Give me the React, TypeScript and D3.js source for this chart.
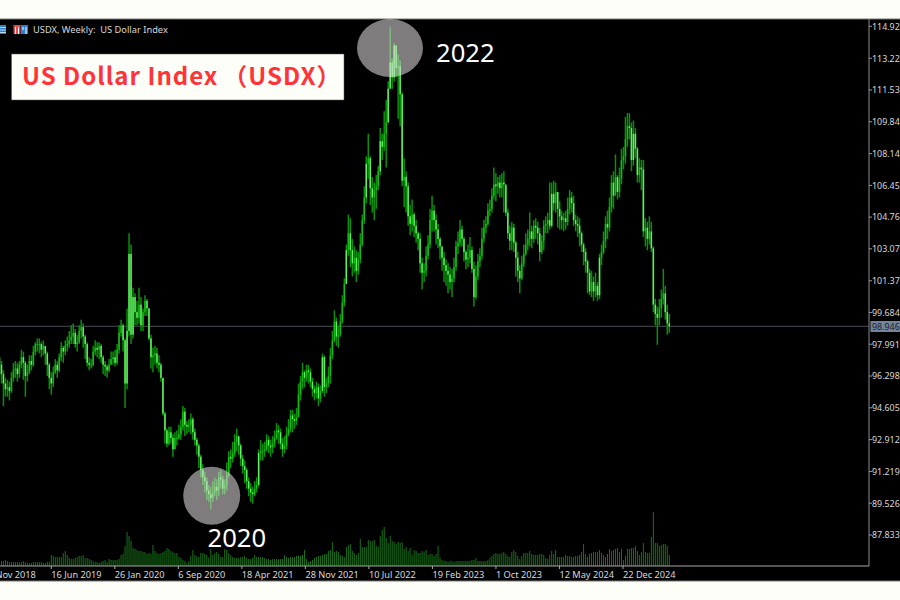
import React from "react";
import * as d3 from "d3";

const closes = [
96.9,96.4,95.9,95.6,95.7,95.5,96.2,96.6,96.7,96.4,
96.9,97.3,97.0,96.3,96.5,97.1,96.9,97.6,98.0,98.0,
98.0,97.7,97.9,97.5,96.9,96.2,95.9,96.5,96.9,96.6,
97.3,97.8,97.6,97.9,98.0,98.2,98.4,98.6,98.0,98.1,
98.7,98.9,98.4,98.0,97.0,96.9,96.9,97.6,97.8,97.7,
97.9,97.3,96.9,96.8,96.6,96.9,97.2,97.3,97.0,97.7,
98.6,99.0,98.2,95.9,98.7,102.8,98.5,100.5,99.7,99.4,
100.1,99.0,99.7,100.3,99.9,98.3,97.3,97.4,97.5,97.0,
96.9,96.2,94.3,93.4,92.7,93.3,93.0,92.4,93.0,93.0,
93.2,93.6,94.4,93.7,93.6,93.7,94.0,93.3,92.9,92.6,
92.0,91.3,90.9,90.7,90.2,90.0,89.8,90.1,90.4,90.2,
90.9,90.8,90.3,90.5,91.0,92.0,91.9,92.2,92.8,93.1,
92.6,91.9,91.5,91.3,90.7,90.3,90.1,90.0,90.3,90.5,
92.2,92.3,92.3,92.4,92.9,92.6,92.5,92.7,93.0,93.4,
93.3,92.7,92.4,92.6,93.2,93.5,94.2,94.0,93.9,94.1,
95.3,96.0,96.5,96.2,96.6,96.5,96.0,95.6,95.4,95.7,
95.1,95.5,97.3,95.7,95.9,96.3,97.4,98.2,99.2,98.4,
98.5,99.2,100.2,101.2,103.0,103.9,103.0,102.3,102.6,101.9,
102.5,103.3,104.6,105.8,107.6,107.9,106.3,105.8,106.2,106.4,
107.2,108.8,108.5,109.2,109.8,111.6,113.0,112.2,113.9,112.7,
112.8,111.3,106.7,106.9,106.4,104.8,104.4,104.9,104.3,103.9,
103.6,102.3,101.8,101.9,102.7,103.3,104.6,105.1,104.6,104.1,
103.6,103.2,102.6,102.2,101.9,101.7,101.3,101.5,102.1,103.2,
103.4,104.1,103.6,102.9,102.5,102.6,103.0,102.0,100.5,101.6,
102.4,102.7,103.6,104.2,104.4,105.1,105.2,105.9,106.5,106.4,
106.6,106.3,106.6,106.5,105.0,103.9,103.5,104.2,103.4,102.6,
101.9,101.5,102.3,102.8,103.3,103.6,104.0,103.6,104.3,104.2,
103.9,102.9,103.5,104.3,104.4,104.6,104.3,106.0,105.5,106.1,
105.2,104.8,104.6,104.7,104.5,105.2,105.8,105.5,104.6,104.4,
104.3,103.9,103.3,102.9,102.4,101.8,100.8,101.3,100.8,101.1,
100.6,102.6,102.9,103.5,104.4,104.2,105.3,106.6,105.9,106.9,
106.1,106.8,107.8,108.0,108.9,109.6,109.5,107.8,109.2,108.4,
107.0,107.4,107.3,104.0,104.2,103.6,104.0,103.1,100.1,99.6,
99.4,99.9,100.4,100.7,99.7,99.1,98.95,
];

const highs = [
97.3,97.1,96.6,96.2,96.1,96.0,96.5,97.0,97.1,97.0,
97.1,97.7,97.6,97.1,96.9,97.4,97.4,97.9,98.1,98.3,
98.3,98.1,98.2,97.9,97.6,97.0,96.5,96.8,97.2,97.1,
97.5,98.1,97.9,98.2,98.4,98.7,99.0,99.1,98.8,98.5,
99.0,99.3,99.1,98.5,98.1,97.3,97.2,97.9,98.2,98.1,
98.1,98.0,97.4,97.1,96.9,97.2,97.6,97.6,97.7,98.0,
99.0,99.3,99.1,98.3,99.9,103.9,103.3,101.0,100.7,100.3,
101.0,100.5,99.9,100.6,100.4,99.9,98.5,97.8,97.9,97.8,
97.4,97.0,96.2,94.4,93.5,93.6,93.6,93.2,93.3,93.4,
93.7,94.0,94.7,94.6,93.9,94.0,94.3,94.1,93.5,93.0,
92.7,92.1,91.6,91.2,90.9,90.5,90.4,90.7,90.9,90.8,
91.2,91.3,91.0,90.8,91.7,92.3,92.4,92.8,93.2,93.5,
93.0,92.7,92.1,91.8,91.4,90.9,90.6,90.4,90.7,90.9,
92.4,92.9,92.7,92.8,93.2,93.1,92.9,93.1,93.4,93.8,
93.7,93.5,93.0,93.1,93.6,94.0,94.5,94.5,94.3,94.6,
95.9,96.3,97.0,96.6,96.9,96.9,96.7,96.2,95.8,96.0,
95.9,95.8,97.5,97.4,96.2,96.8,97.8,98.7,99.8,99.4,
99.0,99.6,100.6,101.5,103.3,104.9,104.7,103.6,103.2,103.0,
102.9,103.9,104.9,106.4,108.0,109.2,108.0,106.9,106.6,107.0,
107.5,109.5,109.2,110.4,111.0,112.0,114.9,113.2,114.0,113.9,
113.4,113.1,111.4,107.9,107.2,106.6,105.4,105.7,105.0,104.6,
104.0,103.9,102.6,102.3,103.2,103.8,105.2,105.9,105.4,104.9,
104.4,103.7,103.2,102.9,102.5,102.3,102.1,102.0,102.6,103.5,
104.0,104.6,104.3,103.7,103.0,103.3,103.7,103.2,102.4,102.2,
102.8,103.1,104.2,104.6,104.8,105.5,105.7,106.3,107.4,107.1,
106.9,107.0,107.1,107.2,106.4,105.2,104.3,104.5,104.4,103.5,
102.9,102.2,102.7,103.3,103.9,104.1,105.0,104.3,104.6,104.7,
104.5,104.2,103.8,104.6,104.8,105.0,106.6,106.6,106.7,106.6,
106.1,105.6,105.1,105.0,105.1,105.8,106.2,106.1,105.9,104.9,
104.8,104.7,104.0,103.4,103.1,102.5,102.0,101.9,101.6,101.8,
101.3,102.8,103.3,104.0,104.8,105.1,105.8,107.0,107.2,108.1,
107.0,107.4,108.4,108.5,110.1,110.3,110.3,109.8,109.9,109.5,
108.5,107.9,107.8,107.8,104.7,104.5,104.8,104.5,103.2,100.4,
100.0,100.4,100.9,102.0,101.1,100.1,99.6,
];

const lows = [
96.2,95.9,94.7,95.2,95.2,95.0,95.4,96.0,96.2,96.0,
96.2,96.7,96.1,95.2,96.0,96.4,96.6,96.8,97.4,97.6,
97.5,97.3,97.4,96.9,96.3,95.6,95.3,95.7,96.4,96.2,
96.5,97.1,97.0,97.4,97.6,97.8,98.0,98.0,97.8,97.6,
98.0,98.3,97.8,97.2,96.8,96.6,96.7,96.8,97.4,97.3,
97.2,97.0,96.4,96.3,96.2,96.5,96.9,96.9,96.8,96.9,
97.5,98.4,97.6,94.6,95.6,98.4,98.0,98.3,99.0,99.0,
99.1,98.7,98.7,99.5,99.5,98.2,96.7,96.5,96.9,96.7,
96.5,96.0,94.2,92.7,92.5,92.6,92.7,92.0,92.4,92.6,
92.9,92.9,93.4,93.1,93.2,93.3,93.2,92.9,92.6,92.1,
91.4,90.9,90.5,90.1,89.7,89.6,89.2,89.6,89.9,89.7,
89.9,90.3,90.0,90.0,90.2,90.9,91.4,91.7,92.0,92.3,
92.1,91.5,91.1,90.6,90.3,89.9,89.6,89.5,89.9,90.1,
90.4,91.8,91.8,92.0,92.3,92.2,92.0,92.2,92.5,92.9,
92.7,92.4,92.0,92.2,92.4,93.1,93.3,93.3,93.5,93.7,
94.2,95.0,95.6,95.7,96.0,95.9,95.7,95.2,95.0,95.1,
94.7,94.9,95.4,95.2,95.4,95.7,95.9,97.2,98.1,97.9,
97.8,98.4,99.1,100.0,101.2,102.7,102.1,101.6,101.8,101.3,
101.7,102.3,103.2,104.4,105.5,106.8,105.4,105.0,104.6,105.2,
106.2,107.0,107.8,108.3,107.4,109.8,111.6,111.6,112.0,112.2,
110.0,109.6,106.4,105.3,105.0,104.3,103.8,104.0,103.7,103.4,
103.0,101.8,100.9,101.3,101.6,102.5,103.1,104.0,104.0,103.3,
103.1,102.5,101.9,101.3,101.1,100.7,100.9,100.5,101.3,101.9,
102.8,103.2,103.2,102.4,102.0,102.1,102.3,101.8,100.0,100.4,
101.4,102.1,102.5,103.4,103.9,104.3,104.8,105.0,105.7,105.6,
106.0,105.8,105.8,105.0,104.8,103.6,103.0,103.0,102.9,101.6,
101.3,100.7,101.4,102.1,102.7,103.0,103.2,103.1,103.4,103.6,
103.3,102.4,102.8,103.0,103.9,103.9,104.1,104.2,105.1,105.0,
104.2,104.1,104.1,104.0,104.1,104.3,104.9,105.0,104.3,104.0,
103.7,103.2,102.9,102.2,101.8,100.7,100.6,100.5,100.3,100.5,
100.3,100.4,102.2,102.8,103.1,103.6,104.0,105.0,105.2,106.1,
105.7,105.8,106.5,107.3,107.6,108.5,108.9,107.2,107.5,107.9,
106.6,106.6,106.2,103.7,103.2,103.0,103.3,102.9,99.7,99.0,
97.96,99.0,99.4,100.1,99.3,98.5,98.6,
];

const volumes = [
4,5,5,6,5,4,4,4,4,4,
4,4,5,4,3,3,3,4,4,4,
4,4,3,3,4,4,11,10,9,9,
9,9,13,15,11,8,7,7,8,9,
10,10,11,8,8,7,6,5,4,4,
3,4,5,6,4,7,6,6,6,6,
7,11,12,20,34,30,25,18,17,16,
15,15,14,14,12,13,12,21,15,13,
12,13,14,15,18,17,15,14,13,13,
9,8,6,5,3,5,10,16,11,10,
9,13,13,12,11,8,17,11,13,14,
12,9,9,17,16,13,11,9,8,8,
8,9,9,10,8,7,7,8,11,9,
9,9,9,8,7,7,6,7,7,7,
7,7,7,11,9,8,9,9,9,10,
10,10,11,16,7,4,5,6,8,9,
10,10,11,12,12,15,16,24,14,15,
14,11,10,9,19,21,22,15,13,11,
13,27,19,19,19,26,25,25,26,20,
19,30,36,39,28,23,30,25,24,22,
24,23,24,17,19,15,18,11,16,15,
13,13,15,14,16,11,12,12,10,12,
20,8,6,5,5,4,5,5,4,5,
5,5,5,5,5,5,5,6,6,8,
5,5,5,5,5,6,8,10,12,13,
12,12,13,14,12,10,9,14,16,14,
10,7,10,13,13,13,15,12,11,11,
11,12,12,11,8,7,11,15,12,16,
9,9,9,9,11,10,10,9,9,10,
10,11,14,22,12,9,12,13,14,14,
14,16,13,11,9,12,17,15,16,17,
18,14,17,6,10,17,17,18,18,20,
15,11,14,23,14,13,13,29,54,23,
23,20,21,22,22,20,11,
];

const priceTicks = ["114.92","113.22","111.53","109.84","108.14","106.45","104.76","103.07","101.37","99.684","97.991","96.298","94.605","92.912","91.219","89.526","87.833"];
const dateTicks = ["4 Nov 2018","16 Jun 2019","26 Jan 2020","6 Sep 2020","18 Apr 2021","28 Nov 2021","10 Jul 2022","19 Feb 2023","1 Oct 2023","12 May 2024","22 Dec 2024"];
const dateTickBars = [-6,26,58,90,122,154,186,218,250,282,314];
const lastPrice = 98.946;

const W = 900, H = 600;
const tickX = d3.scaleLinear().domain([26, 314]).range([51.3, 623]);
const x = d3.scaleLinear().domain([26, 336]).range([51.3, 669.3]);
const y = d3.scaleLinear().domain([87.833, 114.921]).range([535, 26.3]);
const v = d3.scaleLinear().domain([0, 54]).range([566, 512]);

const axisFont = "'Noto Sans', sans-serif";

export default function App() {
  const bars = closes.map((c, i) => {
    const o = i === 0 ? 97.3 : closes[i - 1];
    return { i, o, c, h: highs[i], l: lows[i] };
  });
  return (
    <svg width={W} height={H} viewBox={`0 0 ${W} ${H}`} style={{ position: "absolute", left: 0, top: 0, display: "block" }}>
      <rect x={0} y={0} width={W} height={H} fill="#fefef8" />
      <rect x={0} y={19} width={W} height={562} fill="#000" />
      <line x1={0} x2={W} y1={19} y2={19} stroke="#777" />
      <line x1={0} x2={W} y1={581} y2={581} stroke="#777" />

      <line x1={0} x2={869} y1={y(lastPrice)} y2={y(lastPrice)} stroke="#4a4d58" strokeWidth={1} />

      {volumes.map((d, i) => (
        <line key={i} x1={x(i)} x2={x(i)} y1={v(0)} y2={v(d)} stroke="#197219" strokeWidth={1} />
      ))}

      {bars.map((b) => (
        <line key={b.i} x1={x(b.i)} x2={x(b.i)} y1={y(b.h)} y2={y(b.l)} stroke="#0a900a" strokeWidth={1.5} />
      ))}
      {bars.map((b) => {
        const bear = b.c < b.o;
        const long = Math.abs(b.c - b.o) > 1.3;
        return (
          <rect
            key={b.i}
            x={x(b.i) - 0.75}
            width={1.5}
            y={y(Math.max(b.o, b.c))}
            height={Math.max(1, Math.abs(y(b.o) - y(b.c)))}
            fill={bear || long ? "#62ee62" : "#14bc14"}
          />
        );
      })}

      {/* right price axis */}
      <line x1={869} x2={869} y1={19} y2={566} stroke="#8c8c8c" />
      {priceTicks.map((t) => (
        <g key={t}>
          <line x1={869} x2={872} y1={y(+t)} y2={y(+t)} stroke="#9a9a9a" />
          <text x={872} y={y(+t) + 3.3} fill="#d8d8d8" fontSize={8.9} fontFamily={axisFont}>{t}</text>
        </g>
      ))}
      <rect x={870.5} y={321} width={29.5} height={11} fill="#74849a" />
      <text x={872} y={y(lastPrice) + 3.3} fill="#1c2026" fontSize={8.9} fontFamily={axisFont}>{lastPrice.toFixed(3)}</text>

      {/* bottom date axis */}
      <line x1={0} x2={869} y1={566} y2={566} stroke="#a8a8a8" />
      {dateTicks.map((t, k) => (
        <g key={t}>
          <line x1={tickX(dateTickBars[k])} x2={tickX(dateTickBars[k])} y1={566} y2={569} stroke="#a8a8a8" />
          <text x={tickX(dateTickBars[k])} y={578} fill="#d8d8d8" fontSize={9.2} fontFamily={axisFont}>{t}</text>
        </g>
      ))}

      {/* header */}
      <rect x={0} y={25} width={6} height={9} fill="#2f7fd0" />
      <path d="M0 27.5H6M0 30H6M0 32.5H6" stroke="#dfeefa" strokeWidth={0.8} />
      <rect x={13.5} y={25} width={7} height={9} fill="#e5484d" />
      <rect x={21} y={25} width={7} height={9} fill="#2f7fd0" />
      <path d="M15.5 27V34M18.5 27V34M23 27V30M26 27V34" stroke="#fff" strokeWidth={1} />
      <text x={33} y={33} fill="#d8d8d8" fontSize={9.3} fontFamily={axisFont} style={{ whiteSpace: "pre" }}>USDX, Weekly:  US Dollar Index</text>

      {/* annotations */}
      <rect x={11.5} y={54} width={332.5} height={46} fill="#fefef8" stroke="#555" strokeWidth={0.5} />
      <text x={22} y={85} fill="#ff3338" fontSize={24} fontWeight={700} letterSpacing={1} fontFamily="'Noto Sans CJK JP', 'Noto Sans', sans-serif">US Dollar Index<tspan dx={5}>（USDX）</tspan></text>
      <ellipse cx={211.7} cy={495.8} rx={28.5} ry={29} fill="rgba(225,222,222,0.56)" />
      <ellipse cx={390} cy={48} rx={33} ry={29} fill="rgba(225,222,222,0.56)" />
      <text x={207.5} y={547} fill="#fff" fontSize={25.6} fontFamily="'Noto Sans', sans-serif">2020</text>
      <text x={436} y={62} fill="#fff" fontSize={25.6} fontFamily="'Noto Sans', sans-serif">2022</text>
    </svg>
  );
}
